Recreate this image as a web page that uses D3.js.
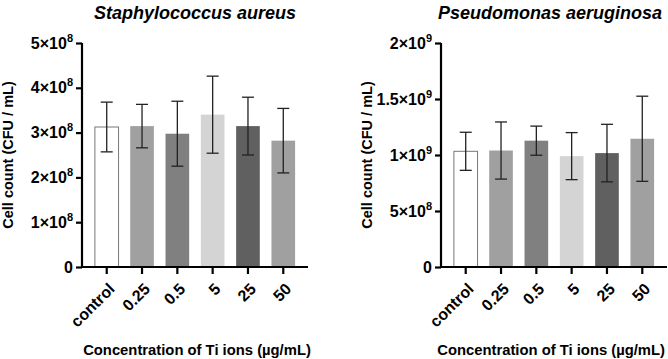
<!DOCTYPE html>
<html><head><meta charset="utf-8">
<script src="https://cdn.jsdelivr.net/npm/d3@7"></script>
<style>body{margin:0;background:#fff}svg{display:block}text{font-family:"Liberation Sans",Arial,sans-serif;font-weight:bold;fill:#000}</style>
</head><body>
<svg id="c" width="668" height="359"></svg>
<script>
const categories = ["control","0.25","0.5","5","25","50"];
const barColors = ["#ffffff","#a0a0a0","#808080","#d4d4d4","#606060","#a0a0a0"];
// Staphylococcus aureus (CFU/mL)
const saMean = [3.125e8,3.145e8,2.975e8,3.40e8,3.145e8,2.82e8];
const saErr  = [0.555e8,0.485e8,0.725e8,0.86e8,0.645e8,0.72e8];
const saTicks = [0,1e8,2e8,3e8,4e8,5e8];
const saTickLabels = [["0",""],["1×10","8"],["2×10","8"],["3×10","8"],["4×10","8"],["5×10","8"]];
// Pseudomonas aeruginosa (CFU/mL)
const paMean = [1.033e9,1.04e9,1.128e9,0.99e9,1.017e9,1.145e9];
const paErr  = [0.17e9,0.255e9,0.13e9,0.21e9,0.257e9,0.38e9];
const paTicks = [0,5e8,1e9,1.5e9,2e9];
const paTickLabels = [["0",""],["5×10","8"],["1×10","9"],["1.5×10","9"],["2×10","9"]];

const svg = d3.select("#c");

function panel(opts){
  const {x0,x1,y0,y1,max,mean,err,ticks,tickLabels,title,titleRight} = opts;
  const g = svg.append("g");
  const x = d3.scaleBand().domain(categories).range([x0,x1]).paddingInner(0.33).paddingOuter(0.365);
  const y = d3.scaleLinear().domain([0,max]).range([y0,y1]);

  // bars
  g.selectAll("rect.bar").data(categories).join("rect")
    .attr("x", d=>x(d)).attr("width", x.bandwidth())
    .attr("y", (d,i)=>y(mean[i])).attr("height",(d,i)=>y(0)-y(mean[i]))
    .attr("fill",(d,i)=>barColors[i])
    .attr("stroke",(d,i)=>i===0?"#777":"none").attr("stroke-width",1);

  // error bars
  const cap = 6;
  categories.forEach((d,i)=>{
    const cx = x(d)+x.bandwidth()/2;
    const hi = y(mean[i]+err[i]), lo = y(mean[i]-err[i]);
    const eg = g.append("g").attr("stroke","#222").attr("stroke-width",1.3);
    eg.append("line").attr("x1",cx).attr("x2",cx).attr("y1",hi).attr("y2",lo);
    eg.append("line").attr("x1",cx-cap).attr("x2",cx+cap).attr("y1",hi).attr("y2",hi);
    eg.append("line").attr("x1",cx-cap).attr("x2",cx+cap).attr("y1",lo).attr("y2",lo);
  });

  // y axis
  const ya = g.append("g").attr("transform",`translate(${x0},0)`)
    .call(d3.axisLeft(y).tickValues(ticks).tickSize(6).tickFormat(""));
  ya.select(".domain").attr("stroke","#000").attr("stroke-width",2.2).attr("d",`M0,${y0+1}V${y1}`);
  ya.selectAll(".tick line").attr("stroke","#000").attr("stroke-width",2.2);
  ticks.forEach((t,i)=>{
    const tx = g.append("text").attr("x",x0-9).attr("y",y(t)+5.5).attr("text-anchor","end").style("font-size","16px");
    tx.append("tspan").text(tickLabels[i][0]);
    if(tickLabels[i][1]) tx.append("tspan").attr("dy",-7).style("font-size","11px").text(tickLabels[i][1]);
  });

  // x axis
  const xa = g.append("g").attr("transform",`translate(0,${y0})`)
    .call(d3.axisBottom(x).tickSize(7).tickFormat(""));
  xa.select(".domain").attr("stroke","#000").attr("stroke-width",2.2).attr("d",`M${x0-1},0H${x1}`);
  xa.selectAll(".tick line").attr("stroke","#000").attr("stroke-width",2.2);
  categories.forEach(d=>{
    const cx = x(d)+x.bandwidth()/2;
    g.append("text").attr("transform",`translate(${cx+5},${y0+19}) rotate(-45)`)
      .attr("text-anchor","end").attr("dy","0.35em").style("font-size","16px").text(d);
  });

  // titles
  const mid = (x0+x1)/2;
  if(titleRight){
    g.append("text").attr("x",titleRight).attr("y",19).attr("text-anchor","end")
      .style("font-size","18px").style("font-style","italic").text(title);
    g.append("text").attr("x",titleRight+3).attr("y",355).attr("text-anchor","end")
      .style("font-size","14.8px").text("Concentration of Ti ions (µg/mL)");
  } else {
    g.append("text").attr("x",mid).attr("y",19).attr("text-anchor","middle")
      .style("font-size","18px").style("font-style","italic").text(title);
    g.append("text").attr("x",mid+2).attr("y",355).attr("text-anchor","middle")
      .style("font-size","14.8px").text("Concentration of Ti ions (µg/mL)");
  }
  g.append("text").attr("transform",`translate(${x0-69},${(y0+y1)/2}) rotate(-90)`)
    .attr("text-anchor","middle").style("font-size","14.5px").text("Cell count (CFU / mL)");
}

panel({x0:82,x1:308,y0:267,y1:43,max:5e8,mean:saMean,err:saErr,ticks:saTicks,tickLabels:saTickLabels,title:"Staphylococcus aureus"});
panel({x0:441,x1:667,y0:267,y1:43,max:2e9,mean:paMean,err:paErr,ticks:paTicks,tickLabels:paTickLabels,title:"Pseudomonas aeruginosa",titleRight:662});
</script>
</body></html>
